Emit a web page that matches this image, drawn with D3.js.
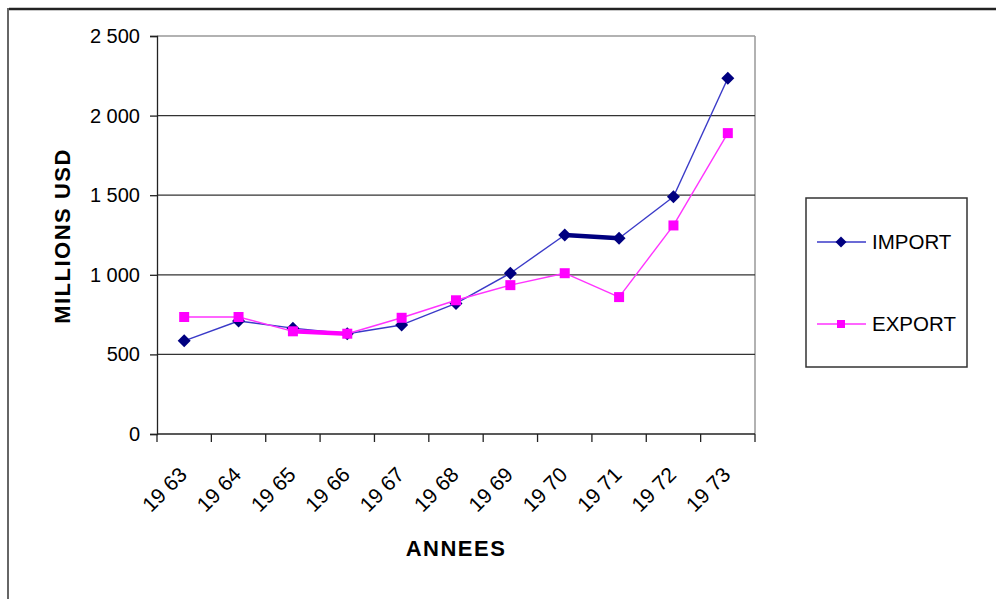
<!DOCTYPE html>
<html>
<head>
<meta charset="utf-8">
<script src="https://cdn.jsdelivr.net/npm/d3@7"></script>
<style>
  html, body { margin: 0; padding: 0; background: #fff; }
  svg { display: block; font-family: "Liberation Sans", Arial, sans-serif; }
</style>
</head>
<body>
<svg id="chart" width="996" height="599"></svg>
<script>
// Trade balance 1963–1973, millions USD
const years = ["1963", "1964", "1965", "1966", "1967", "1968", "1969", "1970", "1971", "1972", "1973"];
const yearLabels = ["19 63", "19 64", "19 65", "19 66", "19 67", "19 68", "19 69", "19 70", "19 71", "19 72", "19 73"];
const importValues = [585, 710, 665, 630, 685, 820, 1010, 1250, 1230, 1490, 2235];
const exportValues = [735, 735, 645, 630, 730, 840, 935, 1010, 860, 1310, 1890];
const yTicks = [0, 500, 1000, 1500, 2000, 2500];
const yTickLabels = ["0", "500", "1 000", "1 500", "2 000", "2 500"];

// segments drawn with a heavier stroke (index of the starting year)
const importHeavy = [7];
const exportHeavy = [2];

const svg = d3.select("#chart");
const plotLeft = 157, plotRight = 755, plotTop = 36, plotBottom = 434;

const x = d3.scaleBand().domain(years).range([plotLeft, plotRight]);
const y = d3.scaleLinear().domain([0, 2500]).range([plotBottom, plotTop]);

// outer frame
svg.append("line").attr("x1", 9).attr("x2", 996).attr("y1", 9).attr("y2", 9)
  .attr("stroke", "#222").attr("stroke-width", 2.5);
svg.append("line").attr("x1", 8).attr("x2", 8).attr("y1", 8).attr("y2", 599)
  .attr("stroke", "#333").attr("stroke-width", 1.5);

// plot area border (top and right)
svg.append("line").attr("x1", plotLeft).attr("x2", plotRight).attr("y1", plotTop).attr("y2", plotTop)
  .attr("stroke", "#999").attr("stroke-width", 1.5);
svg.append("line").attr("x1", plotRight).attr("x2", plotRight).attr("y1", plotTop).attr("y2", plotBottom)
  .attr("stroke", "#999").attr("stroke-width", 1.5);

// gridlines
svg.append("g").selectAll("line").data(yTicks.filter(d => d > 0 && d < 2500)).join("line")
  .attr("x1", plotLeft).attr("x2", plotRight)
  .attr("y1", d => y(d)).attr("y2", d => y(d))
  .attr("stroke", "#333").attr("stroke-width", 1.3);

// y axis
const yAxis = d3.axisLeft(y).tickValues(yTicks)
  .tickFormat((d, i) => yTickLabels[i]).tickSize(7).tickPadding(10);
const gy = svg.append("g").attr("transform", `translate(${plotLeft},0)`).call(yAxis);
gy.select(".domain").attr("stroke", "#222").attr("stroke-width", 1.3);
gy.selectAll(".tick line").attr("stroke", "#222").attr("stroke-width", 1.3);
gy.selectAll(".tick text").attr("font-size", 20).attr("fill", "#000")
  .attr("font-family", "'Liberation Sans', Arial, sans-serif");

// x axis: ticks at category boundaries
const boundaries = years.map(d => x(d)).concat([plotRight]);
const gx = svg.append("g");
gx.append("line").attr("x1", plotLeft).attr("x2", plotRight).attr("y1", plotBottom).attr("y2", plotBottom)
  .attr("stroke", "#222").attr("stroke-width", 1.3);
gx.selectAll("line.tk").data(boundaries).join("line").attr("class", "tk")
  .attr("x1", d => d).attr("x2", d => d).attr("y1", plotBottom).attr("y2", plotBottom + 8)
  .attr("stroke", "#222").attr("stroke-width", 1.3);
gx.selectAll("text").data(years).join("text")
  .attr("transform", d => `translate(${x(d) + x.bandwidth() / 2 + 4},${plotBottom + 42}) rotate(-45)`)
  .attr("text-anchor", "end")
  .attr("font-size", 21)
  .text((d, i) => yearLabels[i]);

// axis titles
svg.append("text")
  .attr("transform", `translate(70,236) rotate(-90)`)
  .attr("text-anchor", "middle").attr("font-weight", "bold")
  .attr("font-size", 22).attr("letter-spacing", 1.5)
  .text("MILLIONS USD");
svg.append("text")
  .attr("x", 456).attr("y", 556)
  .attr("text-anchor", "middle").attr("font-weight", "bold")
  .attr("font-size", 22).attr("letter-spacing", 1.5)
  .text("ANNEES");

const cx = d => x(d) + x.bandwidth() / 2;

function drawSeries(values, heavy, lineColor, heavyColor) {
  const g = svg.append("g");
  const segs = values.slice(0, -1).map((v, i) => ({ i, a: v, b: values[i + 1] }));
  g.selectAll("line").data(segs).join("line")
    .attr("x1", s => cx(years[s.i])).attr("y1", s => y(s.a))
    .attr("x2", s => cx(years[s.i + 1])).attr("y2", s => y(s.b))
    .attr("stroke", s => heavy.includes(s.i) ? heavyColor : lineColor)
    .attr("stroke-width", s => heavy.includes(s.i) ? 4.5 : 1.4);
  return g;
}

const diamondPath = r => `M0,${-r}L${r},0L0,${r}L${-r},0Z`;
const squarePath = r => `M${-r},${-r}H${r}V${r}H${-r}Z`;

// IMPORT
const gi = drawSeries(importValues, importHeavy, "#3a3ac8", "#000080");
gi.selectAll("path").data(importValues).join("path")
  .attr("transform", (d, i) => `translate(${cx(years[i])},${y(d)})`)
  .attr("d", diamondPath(6.5))
  .attr("fill", "#000080");

// EXPORT
const ge = drawSeries(exportValues, exportHeavy, "#ff33ff", "#ff00ff");
ge.selectAll("path").data(exportValues).join("path")
  .attr("transform", (d, i) => `translate(${cx(years[i])},${y(d)})`)
  .attr("d", squarePath(5))
  .attr("fill", "#ff00ff");

// legend
const lg = svg.append("g");
lg.append("rect").attr("x", 806).attr("y", 198).attr("width", 161).attr("height", 169)
  .attr("fill", "#fff").attr("stroke", "#333").attr("stroke-width", 1.5);
const legendItems = [
  { name: "IMPORT", line: "#3a3ac8", mark: "#000080", sym: diamondPath(5.5), yy: 242 },
  { name: "EXPORT", line: "#ff33ff", mark: "#ff00ff", sym: squarePath(4), yy: 324 }
];
legendItems.forEach(it => {
  lg.append("line").attr("x1", 817).attr("x2", 866).attr("y1", it.yy).attr("y2", it.yy)
    .attr("stroke", it.line).attr("stroke-width", 1.4);
  lg.append("path").attr("transform", `translate(841,${it.yy})`).attr("d", it.sym).attr("fill", it.mark);
  lg.append("text").attr("x", 872).attr("y", it.yy + 7).attr("font-size", 20.5).text(it.name);
});
</script>
</body>
</html>
